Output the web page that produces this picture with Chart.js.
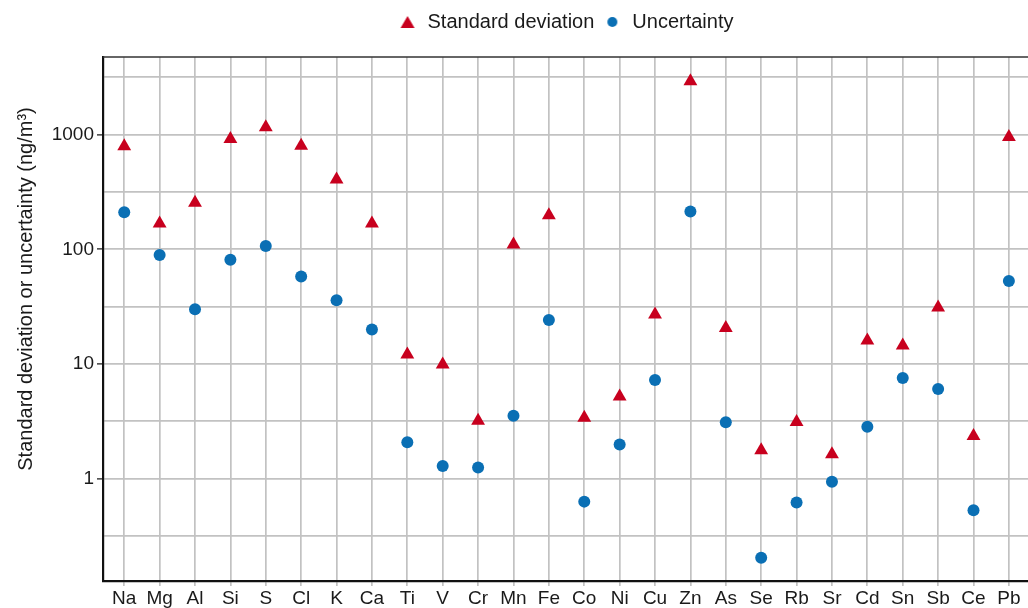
<!DOCTYPE html>
<html>
<head>
<meta charset="utf-8">
<script src="https://cdn.jsdelivr.net/npm/chart.js@4"></script>
<style>
  html, body { margin: 0; padding: 0; background: #fff; }
  #wrap { width: 1028px; height: 608px; }
</style>
</head>
<body>
<div id="wrap"><canvas id="myChart"></canvas></div>
<script>
const elements = ["Na", "Mg", "Al", "Si", "S", "Cl", "K", "Ca", "Ti", "V", "Cr", "Mn", "Fe",
  "Co", "Ni", "Cu", "Zn", "As", "Se", "Rb", "Sr", "Cd", "Sn", "Sb", "Ce", "Pb"];
const stdDev = [790, 168, 255, 915, 1160, 800, 405, 168, 12.1, 9.9, 3.2, 110, 198,
  3.4, 5.2, 27, 2920, 20.6, 1.77, 3.12, 1.63, 16, 14.5, 31, 2.35, 955];
const uncertainty = [210, 89, 30, 81, 107, 58, 36, 20, 2.08, 1.29, 1.25, 3.54, 24.2,
  0.63, 1.98, 7.25, 214, 3.1, 0.204, 0.62, 0.94, 2.84, 7.55, 6.05, 0.53, 53];
const yLabels = [1, 10, 100, 1000];
const yTitle = "Standard deviation or uncertainty (ng/m³)";

const RED = "#c8001e";
const BLUE = "#0a6fb4";
const GRID = "#c2c2c2";
const TEXT = "#1a1a1a";
const FONT = "'Liberation Sans', Arial, sans-serif";

// small marker pictures for the legend
function marker(kind, color) {
  const c = document.createElement("canvas");
  c.width = 16; c.height = 16;
  const g = c.getContext("2d");
  g.fillStyle = color;
  g.beginPath();
  if (kind === "triangle") {
    g.moveTo(8, 2); g.lineTo(15, 14); g.lineTo(1, 14);
  } else {
    g.arc(8, 8, 5, 0, Math.PI * 2);
  }
  g.closePath();
  g.fill();
  return c;
}
const legendIcons = [marker("triangle", RED), marker("circle", BLUE)];

const ctx = document.getElementById("myChart");

new Chart(ctx, {
  type: "scatter",
  data: {
    datasets: [
      {
        label: "Standard deviation",
        data: stdDev.map((v, i) => ({ x: i, y: v })),
        pointStyle: "triangle",
        pointRadius: 8,
        pointHoverRadius: 8,
        backgroundColor: RED,
        borderColor: RED,
        borderWidth: 0,
      },
      {
        label: "Uncertainty",
        data: uncertainty.map((v, i) => ({ x: i, y: v })),
        pointStyle: "circle",
        pointRadius: 6,
        pointHoverRadius: 6,
        backgroundColor: BLUE,
        borderColor: BLUE,
        borderWidth: 0,
      },
    ],
  },
  options: {
    responsive: true,
    maintainAspectRatio: false,
    animation: false,
    layout: { autoPadding: false, padding: { top: 4, left: 0, right: 0, bottom: 0 } },
    plugins: {
      tooltip: { enabled: false },
      legend: {
        position: "top",
        fullSize: false,
        labels: {
          usePointStyle: true,
          boxWidth: 22,
          boxHeight: 16,
          padding: 8,
          color: TEXT,
          font: { family: FONT, size: 20 },
          generateLabels(chart) {
            return chart.data.datasets.map((ds, i) => ({
              text: ds.label,
              datasetIndex: i,
              pointStyle: legendIcons[i],
              fillStyle: ds.backgroundColor,
              strokeStyle: ds.backgroundColor,
              lineWidth: 0,
              fontColor: TEXT,
            }));
          },
        },
      },
    },
    scales: {
      x: {
        type: "linear",
        min: -0.6,
        max: 25.54,
        afterBuildTicks(scale) {
          scale.ticks = elements.map((_, i) => ({ value: i }));
        },
        afterFit(scale) {
          scale.height = 27;
          scale.paddingLeft = 0;
          scale.paddingRight = 0;
        },
        ticks: {
          autoSkip: false,
          maxRotation: 0,
          padding: 1,
          color: TEXT,
          font: { family: FONT, size: 19 },
          callback: (v) => elements[v],
        },
        grid: { color: GRID, lineWidth: 1.7, tickLength: 5, tickColor: GRID },
        border: { display: true, color: "#111", width: 2.2 },
      },
      y: {
        type: "logarithmic",
        min: 0.128,
        max: 4750,
        afterBuildTicks(scale) {
          const t = [];
          yLabels.forEach((v) => {
            t.push({ value: v / Math.sqrt(10) });
            t.push({ value: v });
          });
          t.push({ value: 1000 * Math.sqrt(10) });
          scale.ticks = t;
        },
        afterFit(scale) {
          scale.width = 103;
          scale.paddingTop = 0;
          scale.paddingBottom = 0;
        },
        ticks: {
          padding: 3,
          color: TEXT,
          font: { family: FONT, size: 19 },
          callback: (v) => (yLabels.includes(v) ? String(v) : ""),
        },
        grid: {
          color: GRID,
          lineWidth: 1.7,
          tickLength: 6,
          tickColor: (c) => (c.tick && yLabels.includes(c.tick.value) ? "#555" : "rgba(0,0,0,0)"),
        },
        border: { display: true, color: "#111", width: 2.2 },
      },
    },
  },
  plugins: [
    {
      id: "legendGap",
      beforeInit(chart) {
        const fit = chart.legend.fit;
        chart.legend.fit = function () {
          fit.call(this);
          this.height += 15;
        };
      },
    },
    {
      id: "frameAndTitle",
      afterDraw(chart) {
        const a = chart.chartArea;
        const g = chart.ctx;
        g.save();
        g.strokeStyle = "#333";
        g.lineWidth = 1.6;
        g.beginPath();
        g.moveTo(a.left, a.top);
        g.lineTo(a.right, a.top);
        g.stroke();
        // y axis title, sits a bit above the panel centre like the original
        g.translate(26, 289);
        g.rotate(-Math.PI / 2);
        g.fillStyle = TEXT;
        g.font = "20px " + FONT;
        g.textAlign = "center";
        g.textBaseline = "middle";
        g.fillText(yTitle, 0, 0);
        g.restore();
      },
    },
  ],
});
</script>
</body>
</html>
